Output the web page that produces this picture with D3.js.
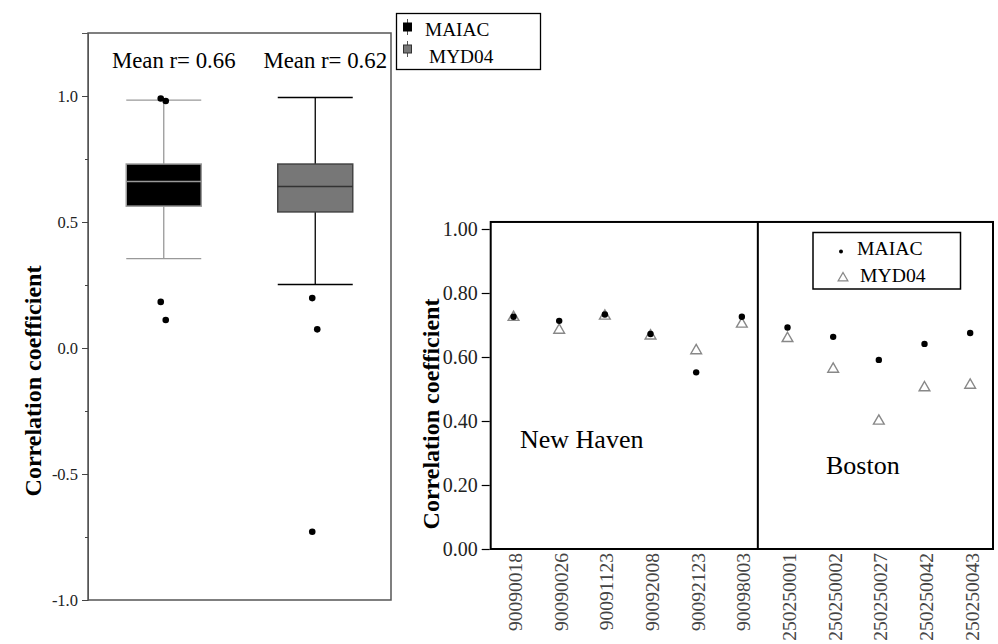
<!DOCTYPE html>
<html><head><meta charset="utf-8">
<script src="https://cdn.jsdelivr.net/npm/d3@7"></script>
<style>
html,body{margin:0;padding:0;background:#fff;}
svg{display:block;}
svg text{font-family:"Liberation Serif","Times New Roman",Times,"DejaVu Serif",serif !important;}
</style></head>
<body>
<svg id="chart" width="998" height="644"></svg>
<script>
// ---------- Left panel: box plots ----------
const boxCats = ["MAIAC", "MYD04"];
const boxWhiskerHigh = [0.984, 0.994];
const boxQ3 = [0.730, 0.730];
const boxMedian = [0.661, 0.641];
const boxQ1 = [0.563, 0.540];
const boxWhiskerLow = [0.355, 0.252];
const boxOutliers = [[0.99, 0.98, 0.183, 0.111], [0.198, 0.074, -0.729]];
const boxMeanLabels = ["Mean r= 0.66", "Mean r= 0.62"];
const leftTicks = [-1.0, -0.5, 0.0, 0.5, 1.0];
const leftMinorTicks = [-0.75, -0.25, 0.25, 0.75];

// ---------- Right panel: site correlations ----------
const sites = ["90090018","90090026","90091123","90092008","90092123","90098003",
               "250250001","250250002","250250027","250250042","250250043"];
const maiacR = [0.726, 0.713, 0.733, 0.672, 0.552, 0.726, 0.692, 0.663, 0.591, 0.641, 0.675];
const myd04R = [0.724, 0.684, 0.728, 0.666, 0.620, 0.703, 0.658, 0.562, 0.400, 0.504, 0.512];
const rightTicks = [0, 0.2, 0.4, 0.6, 0.8, 1.0];
const cityLabels = ["New Haven", "Boston"];

const svg = d3.select("#chart");

// ===== LEFT =====
const L = {x0: 88, x1: 391, y0: 33, y1: 600};
const yL = d3.scaleLinear().domain([-1, 1.25]).range([L.y1, L.y0]);
const xL = d3.scaleBand().domain(boxCats).range([L.x0, L.x1]);
const bw = xL.bandwidth() * 0.495;

svg.append("rect").attr("x", L.x0).attr("y", L.y0)
  .attr("width", L.x1 - L.x0).attr("height", L.y1 - L.y0)
  .attr("fill", "none").attr("stroke", "#555").attr("stroke-width", 1.5);

const axL = svg.append("g").attr("transform", `translate(${L.x0},0)`)
  .call(d3.axisLeft(yL).tickValues(leftTicks).tickSize(6).tickFormat(d => d.toFixed(1)));
axL.attr("font-family", null);
axL.select(".domain").attr("stroke", "#555");
axL.selectAll(".tick line").attr("stroke", "#444");
axL.selectAll("text").attr("font-size", 16.5).attr("fill", "#222").attr("dx", -1);
const axLm = svg.append("g").attr("transform", `translate(${L.x0},0)`)
  .call(d3.axisLeft(yL).tickValues(leftMinorTicks).tickSize(3).tickFormat(""));
axLm.select(".domain").remove();
axLm.selectAll(".tick line").attr("stroke", "#444");

const boxStyle = [
  {fill: "#000", stroke: "#999", whisker: "#999", median: "#999"},
  {fill: "#777", stroke: "#444", whisker: "#000", median: "#333"}
];
boxCats.forEach((c, i) => {
  const cx = xL(c) + xL.bandwidth() / 2;
  const st = boxStyle[i];
  const g = svg.append("g");
  g.append("line").attr("x1", cx).attr("x2", cx)
    .attr("y1", yL(boxWhiskerHigh[i])).attr("y2", yL(boxQ3[i])).attr("stroke", st.whisker).attr("stroke-width", 1.3);
  g.append("line").attr("x1", cx).attr("x2", cx)
    .attr("y1", yL(boxQ1[i])).attr("y2", yL(boxWhiskerLow[i])).attr("stroke", st.whisker).attr("stroke-width", 1.3);
  [boxWhiskerHigh[i], boxWhiskerLow[i]].forEach(v => {
    g.append("line").attr("x1", cx - bw / 2).attr("x2", cx + bw / 2)
      .attr("y1", yL(v)).attr("y2", yL(v)).attr("stroke", st.whisker).attr("stroke-width", 1.3);
  });
  g.append("rect").attr("x", cx - bw / 2).attr("y", yL(boxQ3[i]))
    .attr("width", bw).attr("height", yL(boxQ1[i]) - yL(boxQ3[i]))
    .attr("fill", st.fill).attr("stroke", st.stroke).attr("stroke-width", 1.5);
  g.append("line").attr("x1", cx - bw / 2).attr("x2", cx + bw / 2)
    .attr("y1", yL(boxMedian[i])).attr("y2", yL(boxMedian[i])).attr("stroke", st.median).attr("stroke-width", 1.5);
  boxOutliers[i].forEach((v, j) => {
    g.append("circle").attr("cx", cx + (j % 2 === 0 ? -3 : 2)).attr("cy", yL(v)).attr("r", 3.3).attr("fill", "#000");
  });
  svg.append("text").attr("x", cx + 10).attr("y", 67.5).attr("text-anchor", "middle")
    .attr("font-size", 22.8).attr("fill", "#000").text(boxMeanLabels[i]);
});

svg.append("text").attr("transform", `translate(41,381) rotate(-90)`)
  .attr("text-anchor", "middle").attr("font-weight", "bold")
  .attr("font-size", 24).attr("fill", "#000").text("Correlation coefficient");

// Top legend
const lg = svg.append("g");
lg.append("rect").attr("x", 396.5).attr("y", 13.5).attr("width", 144).attr("height", 56)
  .attr("fill", "#fff").attr("stroke", "#000").attr("stroke-width", 1.3);
const lgFill = ["#000", "#777"], lgStroke = ["#000", "#333"], lgY = [27, 49];
boxCats.forEach((c, i) => {
  lg.append("line").attr("x1", 407.5).attr("x2", 407.5).attr("y1", lgY[i] - 8).attr("y2", lgY[i] + 8)
    .attr("stroke", "#555").attr("stroke-width", 1);
  lg.append("rect").attr("x", 403.5).attr("y", lgY[i] - 4).attr("width", 8).attr("height", 8)
    .attr("fill", lgFill[i]).attr("stroke", lgStroke[i]);
  lg.append("text").attr("x", i === 0 ? 425 : 429).attr("y", i === 0 ? 36 : 63)
    .attr("font-size", 19.3).attr("fill", "#000").text(c);
});

// ===== RIGHT =====
const R = {x0: 490.7, x1: 993};
const yR = d3.scaleLinear().domain([0, 1]).range([549, 229]);
const xR = d3.scaleBand().domain(sites).range([R.x0, R.x1]);
const rTop = yR(1.022), rBot = yR(0);

svg.append("rect").attr("x", R.x0).attr("y", rTop).attr("width", R.x1 - R.x0).attr("height", rBot - rTop)
  .attr("fill", "none").attr("stroke", "#000").attr("stroke-width", 2);
const divX = xR(sites[6]) - xR.bandwidth() * 0.15;
svg.append("line").attr("x1", divX).attr("x2", divX).attr("y1", rTop).attr("y2", rBot)
  .attr("stroke", "#000").attr("stroke-width", 2);

const axR = svg.append("g").attr("transform", `translate(${R.x0 - 1},0)`)
  .call(d3.axisLeft(yR).tickValues(rightTicks).tickSize(8).tickFormat(d => d.toFixed(2)));
axR.attr("font-family", null);
axR.select(".domain").remove();
axR.selectAll(".tick line").attr("stroke", "#000").attr("stroke-width", 1.2);
axR.selectAll("text").attr("font-size", 20).attr("fill", "#222").attr("dx", -1);

const axX = svg.append("g").attr("transform", `translate(0,${rBot})`)
  .call(d3.axisBottom(xR).tickSize(0));
axX.attr("font-family", null);
axX.select(".domain").remove();
axX.selectAll("text").attr("font-size", 19.5).attr("fill", "#444")
  .attr("text-anchor", "end").attr("dominant-baseline", "central")
  .attr("transform", "rotate(-90)").attr("x", -4).attr("y", 2).attr("dy", null);

const tri = d3.symbol().type(d3.symbolTriangle).size(50);
svg.append("g").selectAll("path").data(myd04R).join("path")
  .attr("d", tri).attr("transform", (d, i) => `translate(${xR(sites[i]) + xR.bandwidth() / 2},${yR(d)})`)
  .attr("fill", "#fff").attr("stroke", "#888").attr("stroke-width", 1.4);
svg.append("g").selectAll("circle").data(maiacR).join("circle")
  .attr("cx", (d, i) => xR(sites[i]) + xR.bandwidth() / 2).attr("cy", d => yR(d))
  .attr("r", 3.2).attr("fill", "#000");

svg.append("text").attr("x", 520).attr("y", 448).attr("font-size", 26)
  .attr("fill", "#000").text(cityLabels[0]);
svg.append("text").attr("x", 826).attr("y", 474).attr("font-size", 26)
  .attr("fill", "#000").text(cityLabels[1]);

svg.append("text").attr("transform", `translate(439,414) rotate(-90)`)
  .attr("text-anchor", "middle").attr("font-weight", "bold")
  .attr("font-size", 24).attr("fill", "#000").text("Correlation coefficient");

const rg = svg.append("g");
rg.append("rect").attr("x", 813).attr("y", 232.5).attr("width", 147.5).attr("height", 56.5)
  .attr("fill", "#fff").attr("stroke", "#000").attr("stroke-width", 1.5);
rg.append("circle").attr("cx", 841).attr("cy", 251.5).attr("r", 2).attr("fill", "#000");
rg.append("text").attr("x", 857).attr("y", 254.5).attr("font-size", 19.7).text(boxCats[0]);
rg.append("path").attr("d", d3.symbol().type(d3.symbolTriangle).size(40))
  .attr("transform", "translate(843,278)").attr("fill", "#fff").attr("stroke", "#888").attr("stroke-width", 1.3);
rg.append("text").attr("x", 860).attr("y", 282).attr("font-size", 19.7).text(boxCats[1]);
</script>
</body></html>
